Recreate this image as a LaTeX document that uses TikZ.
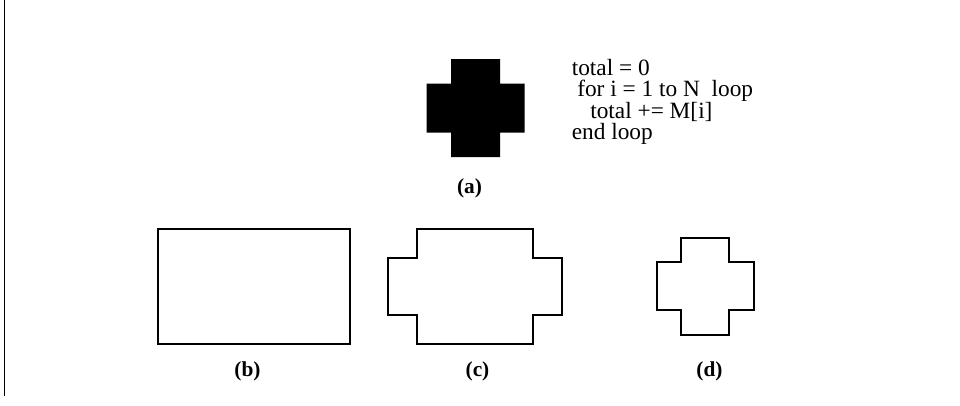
\documentclass[tikz,border=0pt]{standalone}
\usepackage{fontspec}
\setmainfont{Liberation Serif}
\begin{document}
\begin{tikzpicture}[x=0.75pt,y=-0.75pt,
  outline/.style={draw=black,line width=1.5pt,line join=miter},
  code/.style={anchor=base west,inner sep=0pt,font=\fontsize{17.5}{20}\selectfont},
  lab/.style={anchor=base,inner sep=0pt,font=\fontsize{16}{18}\selectfont\bfseries}]
\useasboundingbox (0,0) rectangle (960,405);
\fill[white] (0,0) rectangle (960,405);
% left rule
\draw[line width=1.1pt] (4.3,0) -- (4.3,396);
% (a) filled cross
\fill[black] (451,59) -- (500,59) -- (500,83.5) -- (524.5,83.5) -- (524.5,132.5) -- (500,132.5) -- (500,157) -- (451,157) -- (451,132.5) -- (426.5,132.5) -- (426.5,83.5) -- (451,83.5) -- cycle;
% code
\node[code] (l1) at (571.5,75) {total = 0};
\node[code] (l2) at (577,96.5) {for i = 1 to N \ loop};
\node[code] (l3) at (590,118) {total += M[i]};
\node[code] (l4) at (571.5,139.5) {end loop};
\node[lab] (la) at (469.5,193) {(a)};
% (b)
\draw[outline] (157.7,229) rectangle (350,344);
\node[lab] (lb) at (247.5,376) {(b)};
% (c)
\draw[outline] (417,229) -- (532.7,229) -- (532.7,257.7) -- (561.7,257.7) -- (561.7,315) -- (532.7,315) -- (532.7,344) -- (417,344) -- (417,315) -- (388,315) -- (388,257.7) -- (417,257.7) -- cycle;
\node[lab] (lc) at (477.5,376) {(c)};
% (d)
\draw[outline] (681,237.7) -- (729,237.7) -- (729,262) -- (753.7,262) -- (753.7,309.7) -- (729,309.7) -- (729,334.7) -- (681,334.7) -- (681,309.7) -- (657,309.7) -- (657,262) -- (681,262) -- cycle;
\node[lab] (ld) at (709.5,376) {(d)};
\end{tikzpicture}
\end{document}
